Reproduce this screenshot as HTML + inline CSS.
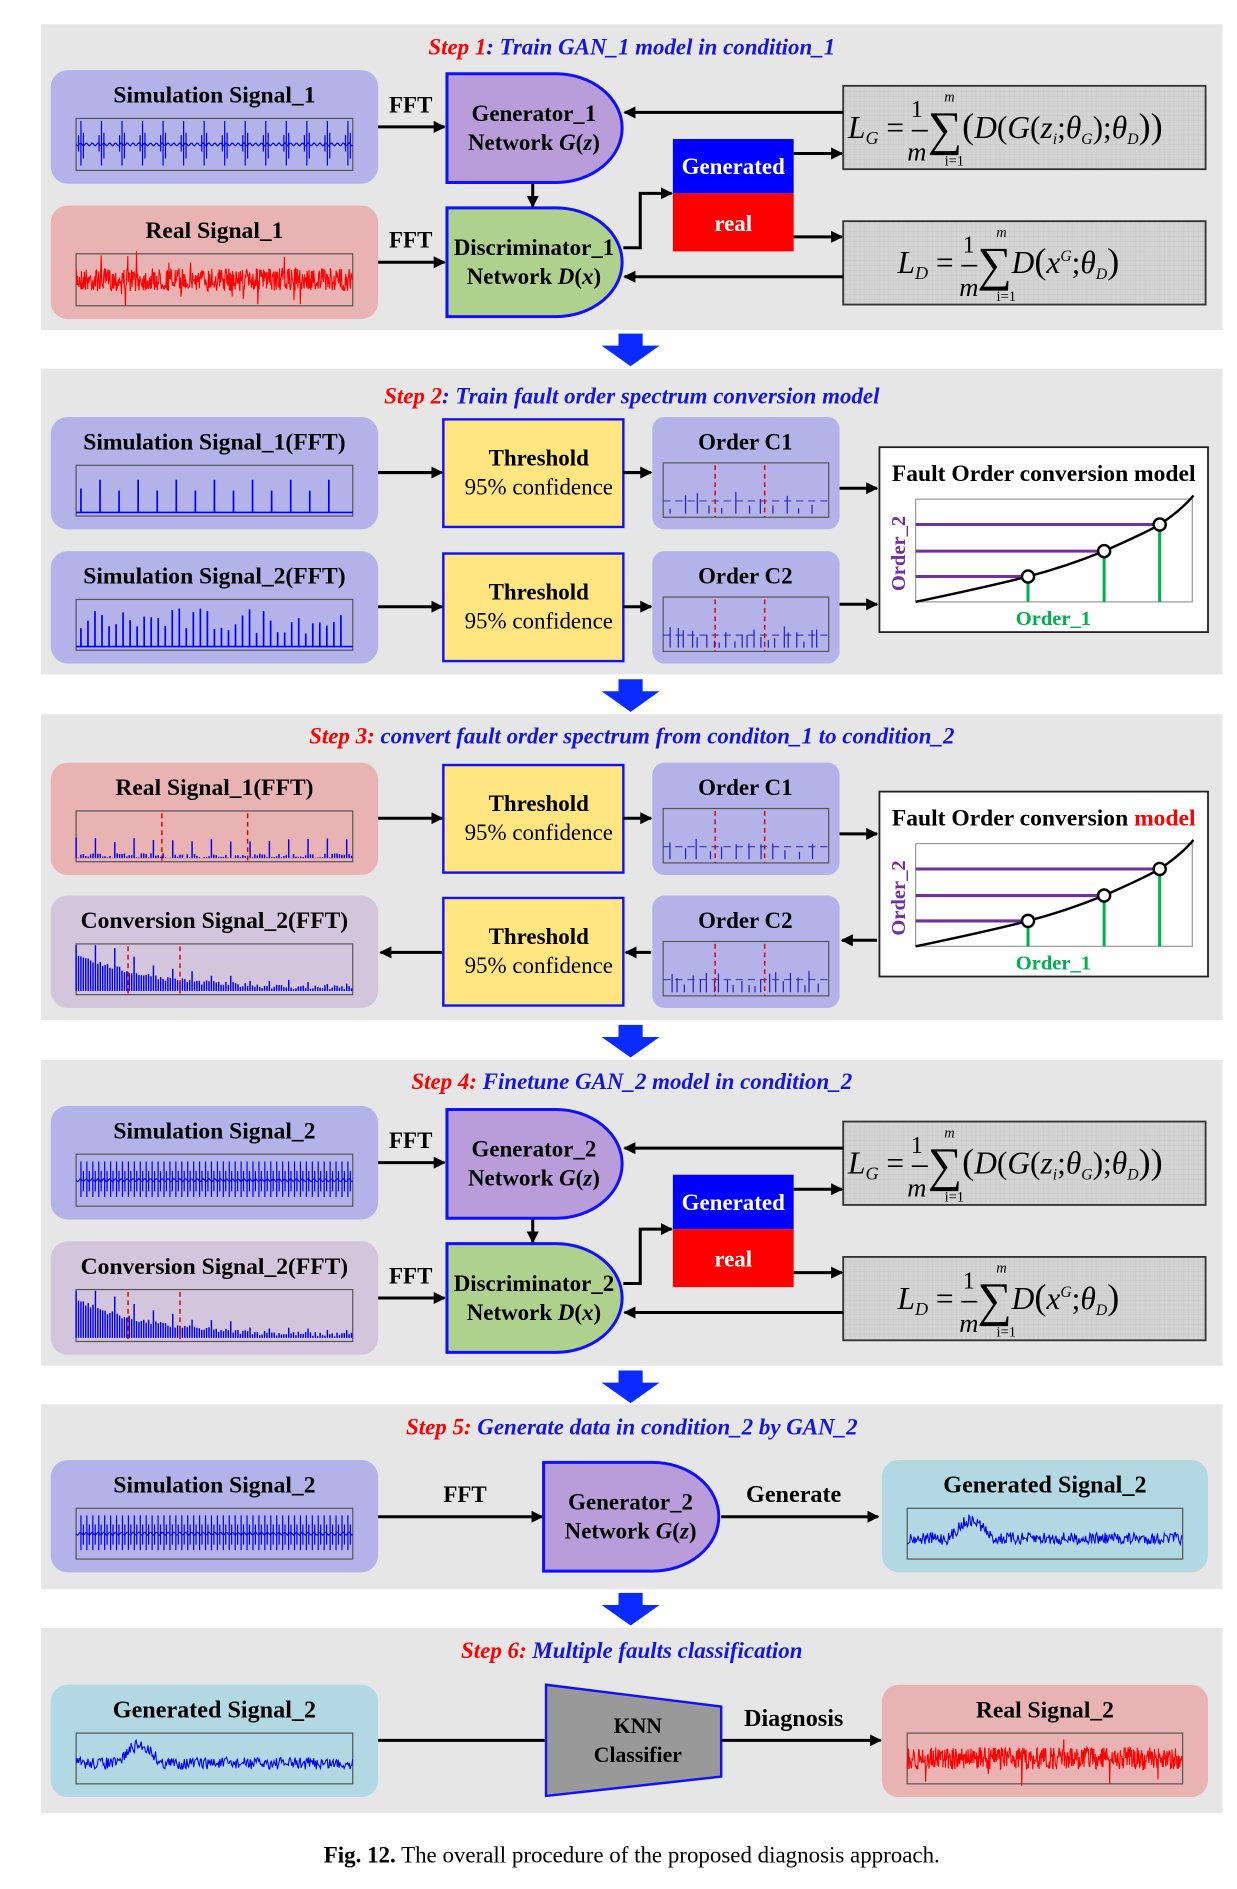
<!DOCTYPE html>
<html><head><meta charset="utf-8"><style>
html,body{margin:0;padding:0;background:#fff;width:1237px;height:1889px;overflow:hidden}
svg{display:block}
text{font-family:"Liberation Serif",serif}
</style></head><body>
<svg id="s" xmlns="http://www.w3.org/2000/svg" width="1237" height="1889" viewBox="0 0 1024 1563" preserveAspectRatio="none">
<defs>
<marker id="ah" markerWidth="10" markerHeight="10" refX="9" refY="5" orient="auto" markerUnits="userSpaceOnUse"><path d="M0,0 L10,5 L0,10 z" fill="#000"/></marker>
<pattern id="grid" width="4" height="4" patternUnits="userSpaceOnUse"><rect width="4" height="4" fill="#d4d4d4"/><path d="M4,0V4M0,4H4" stroke="#c4c4c4" stroke-width="0.6"/></pattern>
</defs>
<g id="root"></g>
</svg>
<script>
const NS="http://www.w3.org/2000/svg";const root=document.getElementById('root');
function el(t,a,txt,p){const e=document.createElementNS(NS,t);for(const k in a)e.setAttribute(k,a[k]);if(txt!=null)e.innerHTML=txt;(p||root).appendChild(e);return e;}
function T(x,y,s,size,opt){opt=opt||{};return el('text',Object.assign({x:x,y:y,'font-size':size||18,'font-weight':'bold','text-anchor':'middle',fill:'#000'},opt),s);}
function arrow(pts){el('polyline',{points:pts,fill:'none',stroke:'#000','stroke-width':2.5,'marker-end':'url(#ah)'});}
function line(pts,c,w){el('polyline',{points:pts,fill:'none',stroke:c||'#000','stroke-width':w||2.5});}
let seed=7;function rnd(){seed=(seed*16807)%2147483647;return seed/2147483647;}
[[20,273],[305,558],[591,844],[877,1130],[1162,1315],[1347,1500]].forEach(p=>el('rect',{x:34,y:p[0],width:978,height:p[1]-p[0],fill:'#e6e6e6'}));
[276,562,848,1134,1318].forEach(y=>el('path',{d:`M512,${y} h20 v10 h14 l-24,17 l-24,-17 h14 z`,fill:'#0a2bff'}));
function title(y,a,b){el('text',{x:523,y:y,'font-size':19,'font-weight':'bold','font-style':'italic','text-anchor':'middle'},`<tspan fill="#f00">${a}</tspan><tspan fill="#1515e0">${b}</tspan>`);}
title(45,'Step 1',': Train GAN_1 model in condition_1');
title(334,'Step 2',': Train fault order spectrum conversion model');
title(615,'Step 3:',' convert fault order spectrum from conditon_1 to condition_2');
title(901,'Step 4:',' Finetune GAN_2 model in condition_2');
title(1187,'Step 5:',' Generate data in condition_2 by GAN_2');
title(1372,'Step 6:',' Multiple faults classification');
function wave(x,y,w,h,type,color){
 let pts=[];const mid=y+h/2, base=y+h-3;
 if(type=='imp'||type=='dimp'){const n=type=='imp'?14:46;let g=`M${x},${mid}`;for(let i=0;i<=w;i+=1)g+=`L${x+i},${mid+Math.sin(i*1.3)*1.2}`;for(let k=0;k<n;k++){let px=x+4+k*(w-8)/(n-1);let a=type=='imp'?h*0.45:h*0.36;g+=`M${px},${mid-a}V${mid+a*0.9}M${px+2},${mid-a*0.5}V${mid+a*0.6}`;if(type=='imp')g+=`M${px-2},${mid-a*0.4}V${mid+a*0.3}`;}el('path',{d:g,fill:'none',stroke:color,'stroke-width':1});return;}
 else if(type=='noise'){for(let i=0;i<=w;i+=0.4){let a=h*0.22*(rnd()-0.5)*2;if(rnd()<0.03)a*=2.5;pts.push([x+i,mid+a]);}}
 else if(type=='gen'){for(let i=0;i<=w;i+=0.7){let bump=i>35&&i<70?Math.sin((i-35)/35*Math.PI)*h*0.35:0;let a=h*0.12*(rnd()-0.5)*2;pts.push([x+i,mid+4-bump+a]);}}
 if(pts.length){el('polyline',{points:pts.map(p=>p.join(',')).join(' '),fill:'none',stroke:color,'stroke-width':0.9});return;}
 if(type=='fft'||type=='fft2'){let g='';const n=type=='fft'?14:38;for(let k=0;k<n;k++){let px=x+4+k*(w-8)/n;let hh=(type=='fft'?(k%2?0.75:0.5):0.3+0.6*rnd())*(h-6)*(k==0?1.1:1);g+=`M${px},${base}V${base-hh}`;}g+=`M${x},${base}H${x+w}`;el('path',{d:g,stroke:color,'stroke-width':1.4,fill:'none'});}
 if(type=='rfft'||type=='conv'){let g='';for(let i=0;i<w;i+=2){let hh=(type=='conv'?Math.exp(-i/60)*h*0.7:0)+rnd()*4;if(i%16==0)hh+=h*0.45*(type=='conv'?Math.exp(-i/120):0.7);g+=`M${x+i},${base}V${base-Math.min(hh,h-4)}`;}el('path',{d:g,stroke:color,'stroke-width':1.2,fill:'none'});const r=type=='conv'?[43,86]:[71,142];r.forEach(o=>el('line',{x1:x+o,y1:y+2,x2:x+o,y2:y+h,stroke:'#d00','stroke-width':1.2,'stroke-dasharray':'4,3'}));}
 if(type=='ord'||type=='ord2'){el('line',{x1:x,y1:y+h*0.7,x2:x+w,y2:y+h*0.7,stroke:'#4040c0','stroke-width':1,'stroke-dasharray':'6,4'});let g='';const n=type=='ord'?12:22;for(let k=0;k<n;k++){let px=x+5+k*(w-10)/n+rnd()*3;let hh=(4+rnd()*14);g+=`M${px},${base}V${base-hh}`;}el('path',{d:g,stroke:'#2020c0','stroke-width':1,fill:'none'});[43,84].forEach(o=>el('line',{x1:x+o,y1:y+2,x2:x+o,y2:y+h,stroke:'#d00','stroke-width':1.2,'stroke-dasharray':'4,3'}));}
}
function sigbox(x,y,w,h,fill,label,type,color,lsize){
 el('rect',{x:x,y:y,width:w,height:h,rx:14,fill:fill});
 T(x+w/2,y+27,label,lsize||19.5);
 const px=x+21,py=y+40,pw=w-42,ph=h-51;
 el('rect',{x:px,y:py,width:pw,height:ph,fill:'none',stroke:'#555','stroke-width':1});
 wave(px,py,pw,ph,type,color);
}
function dshape(x,y,fill,l1,l2){
 el('path',{d:`M${x},${y} h90 a55,45 0 0 1 0,90 h-90 z`,fill:fill,stroke:'#1010ff','stroke-width':2.5});
 T(x+72,y+39,l1,19);
 el('text',{x:x+72,y:y+63,'font-size':19,'font-weight':'bold','text-anchor':'middle'},l2);
}
function formulaG(x,y){
 el('rect',{x:x,y:y,width:300,height:69,fill:'url(#grid)',stroke:'#333','stroke-width':1.5});
 el('text',{x:x+4,y:y+43,'font-size':26,'font-style':'italic','text-anchor':'start'},
 'L<tspan font-size="15" dy="5">G</tspan><tspan dy="-5" font-style="normal"> = </tspan><tspan font-style="normal">–</tspan><tspan font-size="40" font-style="normal" dy="6">∑</tspan><tspan dy="-6" font-size="30" font-style="normal">(</tspan>D<tspan font-style="normal">(</tspan>G<tspan font-style="normal">(</tspan>z<tspan font-size="13" dy="5">i</tspan><tspan dy="-5" font-style="normal">;</tspan>θ<tspan font-size="13" dy="5">G</tspan><tspan dy="-5" font-style="normal">);</tspan>θ<tspan font-size="13" dy="5">D</tspan><tspan dy="-5" font-style="normal" font-size="30">))</tspan>');
 T(x+61,y+26,'1',20,{'font-weight':'normal'});T(x+61,y+62,'m',22,{'font-weight':'normal','font-style':'italic'});
 T(x+88,y+13,'m',12,{'font-weight':'normal','font-style':'italic'});T(x+92,y+66,'i=1',12,{'font-weight':'normal'});
}
function formulaD(x,y){
 el('rect',{x:x,y:y,width:300,height:69,fill:'url(#grid)',stroke:'#333','stroke-width':1.5});
 el('text',{x:x+45,y:y+43,'font-size':26,'font-style':'italic','text-anchor':'start'},
 'L<tspan font-size="15" dy="5">D</tspan><tspan dy="-5" font-style="normal"> = </tspan><tspan font-style="normal">–</tspan><tspan font-size="40" font-style="normal" dy="6">∑</tspan><tspan dy="-6">D</tspan><tspan font-style="normal" font-size="30">(</tspan>x<tspan font-size="13" dy="-10">G</tspan><tspan dy="10" font-style="normal">;</tspan>θ<tspan font-size="13" dy="5">D</tspan><tspan dy="-5" font-style="normal" font-size="30">)</tspan>');
 T(x+104,y+26,'1',20,{'font-weight':'normal'});T(x+104,y+62,'m',22,{'font-weight':'normal','font-style':'italic'});
 T(x+131,y+13,'m',12,{'font-weight':'normal','font-style':'italic'});T(x+135,y+66,'i=1',12,{'font-weight':'normal'});
}
function gan(o,n,s1label,s1type,s2label,s2fill,s2type,s2color){
 sigbox(42,58+o,271,94,'#b3b3ea',s1label,s1type,'#0000ff');
 sigbox(42,170+o,271,94,s2fill,s2label,s2type,s2color);
 T(340,93+o,'FFT',19);T(340,205+o,'FFT',19);
 arrow(`313,${105+o} 368,${105+o}`);
 arrow(`313,${217+o} 368,${217+o}`);
 arrow(`441,${151+o} 441,${171+o}`);
 dshape(370,61+o,'#b99ddb','Generator_'+n,'Network <tspan font-style="italic">G</tspan>(<tspan font-style="italic">z</tspan>)');
 dshape(370,172+o,'#aed18e','Discriminator_'+n,'Network <tspan font-style="italic">D</tspan>(<tspan font-style="italic">x</tspan>)');
 el('rect',{x:557,y:115+o,width:100,height:45,fill:'#0000ff'});el('rect',{x:557,y:160+o,width:100,height:48,fill:'#ff0000'});
 T(607,144+o,'Generated',19,{fill:'#fff'});T(607,191+o,'real',19,{fill:'#fff'});
 arrow(`516,${205+o} 530,${205+o} 530,${160+o} 556,${160+o}`);
 formulaG(698,71+o);formulaD(698,183+o);
 arrow(`657,${127+o} 697,${127+o}`);arrow(`657,${196+o} 697,${196+o}`);
 arrow(`698,${93+o} 517,${93+o}`);arrow(`698,${229+o} 517,${229+o}`);
}
gan(0,'1','Simulation Signal_1','imp','Real Signal_1','#eab3b3','noise','#ff0000');
gan(857,'2','Simulation Signal_2','dimp','Conversion Signal_2(FFT)','#d3c5dc','conv','#0000ee');
function thr(y){el('rect',{x:367,y:y,width:149,height:89,fill:'#ffe680',stroke:'#1010ff','stroke-width':2});T(446,y+38,'Threshold',19);T(446,y+62,'95% confidence',19,{'font-weight':'normal'});}
function ord(y,l,t){el('rect',{x:540,y:y,width:155,height:93,rx:10,fill:'#b3b3ea'});T(617,y+27,l,19);const px=549,py=y+38,pw=137,ph=45;el('rect',{x:px,y:py,width:pw,height:ph,fill:'none',stroke:'#555','stroke-width':1});wave(px,py,pw,ph,t);}
function model(y,red){el('rect',{x:728,y:y,width:272,height:153,fill:'#fff',stroke:'#222','stroke-width':1.5});
 el('text',{x:864,y:y+28,'font-size':19.5,'font-weight':'bold','text-anchor':'middle'},red?'Fault Order conversion <tspan fill="#f00">model</tspan>':'Fault Order conversion model');
 const ax=758,ay=y+43,aw=229,ah=85;el('rect',{x:ax,y:ay,width:aw,height:ah,fill:'none',stroke:'#999','stroke-width':1});
 const P=[[851,y+107],[914,y+86],[960,y+64]];
 P.forEach(p=>{line(`${ax},${p[1]} ${p[0]},${p[1]}`,'#7030a0',2.5);line(`${p[0]},${p[1]} ${p[0]},${ay+ah}`,'#00b050',2.5);});
 el('path',{d:`M${ax},${ay+ah} Q820,${y+115} 851,${y+107} T914,${y+86} Q950,${y+70} 960,${y+64} Q978,${y+52} 988,${y+40}`,fill:'none',stroke:'#000','stroke-width':2});
 P.forEach(p=>el('circle',{cx:p[0],cy:p[1],r:5,fill:'#fff',stroke:'#000','stroke-width':2}));
 T(872,y+147,'Order_1',17,{fill:'#00b050'});
 el('text',{x:749,y:y+88,'font-size':17,'font-weight':'bold','text-anchor':'middle',fill:'#7030a0',transform:`rotate(-90 749 ${y+88})`},'Order_2');
}
sigbox(42,345,271,93,'#b3b3ea','Simulation Signal_1(FFT)','fft','#0000ff');
sigbox(42,456,271,93,'#b3b3ea','Simulation Signal_2(FFT)','fft2','#0000ff');
thr(347);thr(458);ord(345,'Order C1','ord');ord(456,'Order C2','ord2');model(370,false);
arrow('313,391 366,391');arrow('313,502 366,502');arrow('516,391 539,391');arrow('516,502 539,502');arrow('695,404 726,404');arrow('695,500 726,500');
sigbox(42,631,271,93,'#eab3b3','Real Signal_1(FFT)','rfft','#0000ee');
sigbox(42,741,271,93,'#d3c5dc','Conversion Signal_2(FFT)','conv','#0000ee');
thr(633);thr(743);ord(631,'Order C1','ord');ord(741,'Order C2','ord2');model(655,true);
arrow('313,677 366,677');arrow('516,677 539,677');arrow('695,690 726,690');
arrow('366,788 315,788');arrow('539,788 518,788');arrow('726,778 697,778');
sigbox(42,1208,271,93,'#b3b3ea','Simulation Signal_2','dimp','#0000ff');
T(385,1243,'FFT',19);arrow('313,1255 449,1255');
dshape(450,1210,'#b99ddb','Generator_2','Network <tspan font-style="italic">G</tspan>(<tspan font-style="italic">z</tspan>)');
T(657,1243,'Generate',20);arrow('597,1255 727,1255');
sigbox(730,1208,270,93,'#b2d9e3','Generated Signal_2','gen','#0000ee',20);
sigbox(42,1394,271,93,'#b2d9e3','Generated Signal_2','gen','#0000ee',20);
line('313,1440 452,1440');
el('path',{d:'M452,1394 L597,1412 L597,1470 L452,1486 z',fill:'#999',stroke:'#1010ff','stroke-width':2});
T(528,1434,'KNN',18);T(528,1458,'Classifier',18);
T(657,1428,'Diagnosis',20);arrow('597,1440 729,1440');
sigbox(730,1394,270,93,'#eab3b3','Real Signal_2','noise','#ff0000');
el('text',{x:523,y:1541,'font-size':19,'text-anchor':'middle'},'<tspan font-weight="bold">Fig. 12.</tspan>  The overall procedure of the proposed diagnosis approach.');
</script>
</body></html>
